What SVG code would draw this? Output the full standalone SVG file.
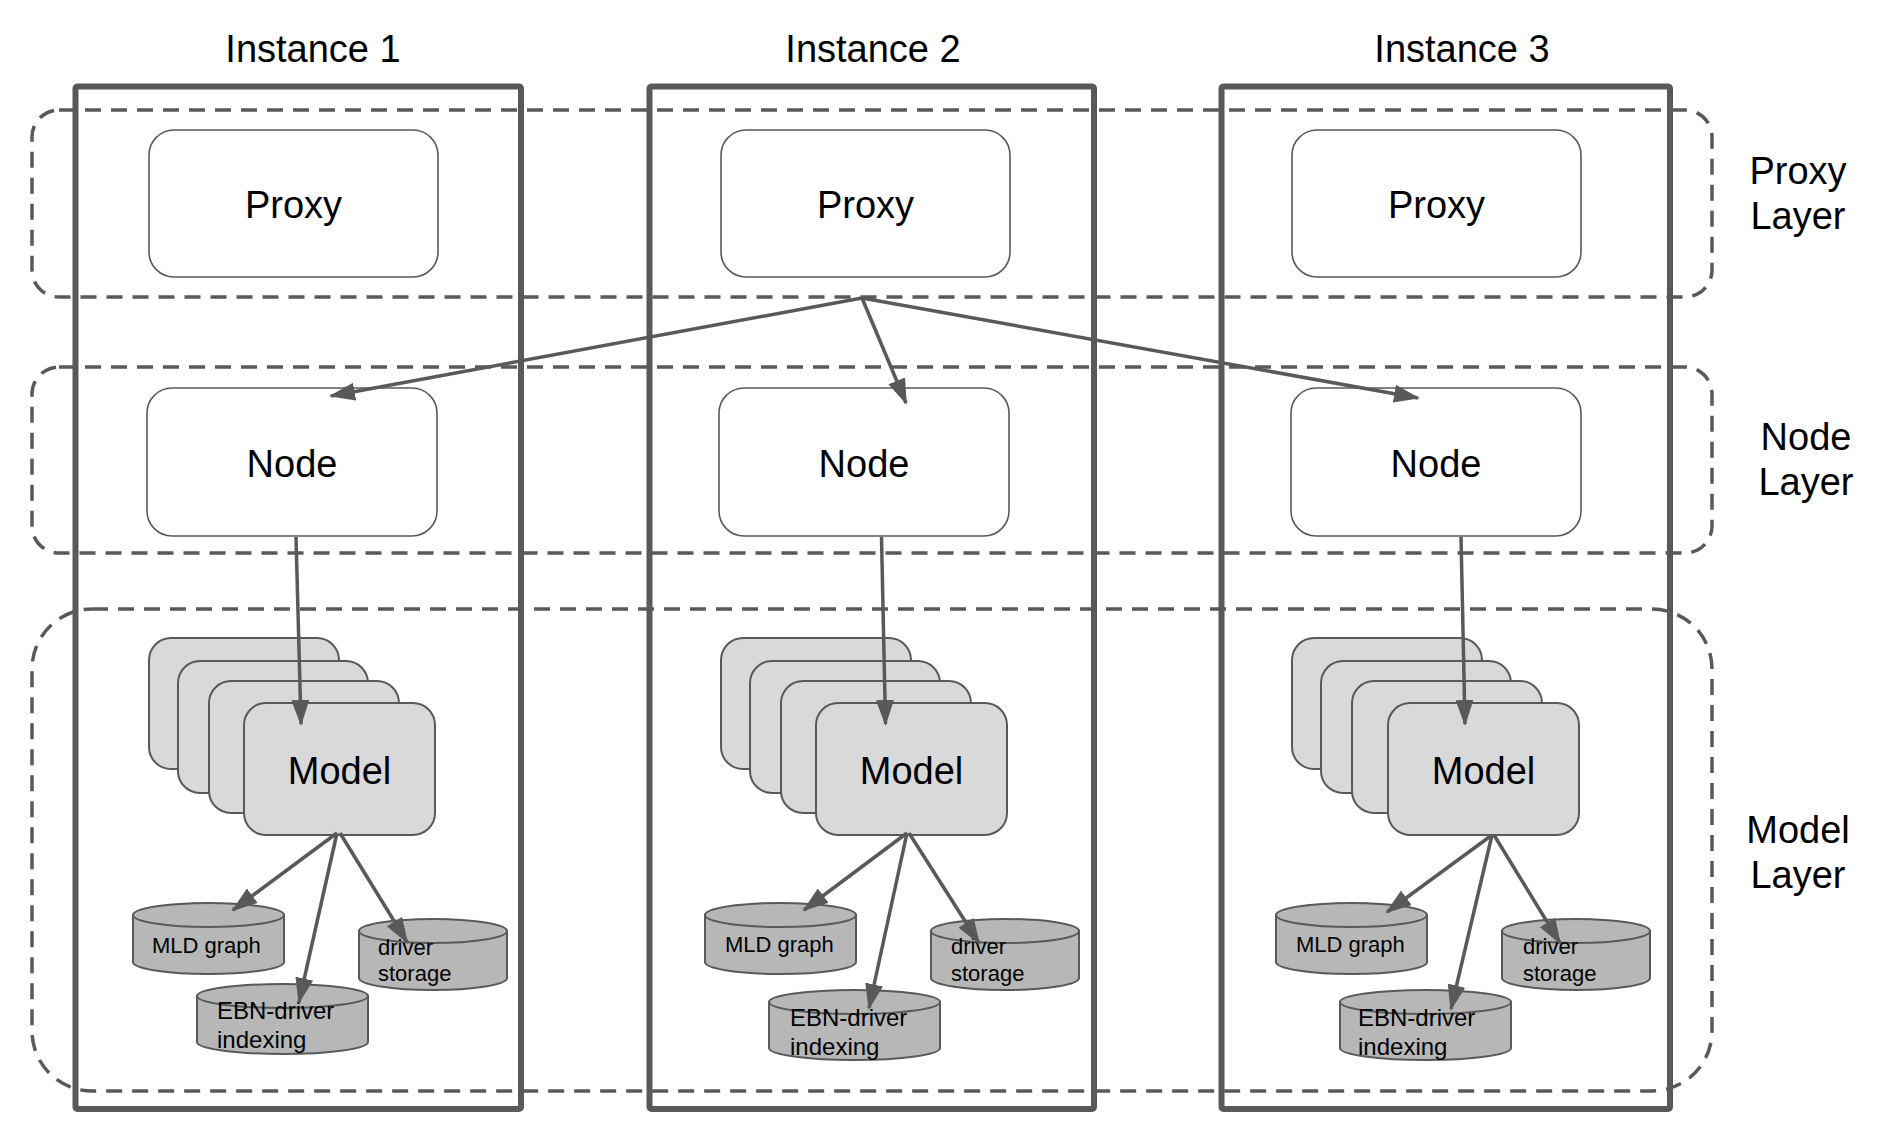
<svg xmlns="http://www.w3.org/2000/svg" width="1879" height="1126" viewBox="0 0 1879 1126">
<style>
text{font-family:"Liberation Sans",Arial,sans-serif;fill:#000}
.big{font-size:38px}
.mid{font-size:38px;text-anchor:middle}
.sm{font-size:22px}
.sm2{font-size:24px}
.layer{fill:none;stroke:#595959;stroke-width:3.5;stroke-dasharray:16 10}
.inst{fill:none;stroke:#595959;stroke-width:6}
.box{fill:#fff;stroke:#595959;stroke-width:1.6}
.model{fill:#d9d9d9;stroke:#595959;stroke-width:2}
.cyl{fill:#b7b7b7;stroke:#595959;stroke-width:2}
.conn line{stroke:#595959;stroke-width:3.5;marker-end:url(#arr)}
</style>
<defs>
<marker id="arr" markerUnits="userSpaceOnUse" markerWidth="26" markerHeight="18" refX="24" refY="9" orient="auto">
<path d="M0,0 L26,9 L0,18 Z" fill="#595959"/>
</marker>
</defs>
<rect width="1879" height="1126" fill="#fff"/>

<g id="layers">
<rect id="proxy-layer" class="layer" x="32" y="110" width="1680" height="187" rx="27"/>
<rect id="node-layer" class="layer" x="32" y="367" width="1680" height="186" rx="27"/>
<rect id="model-layer" class="layer" x="32" y="609" width="1680" height="482" rx="60"/>
<text class="mid" x="1798" y="184">Proxy</text>
<text class="mid" x="1798" y="229">Layer</text>
<text class="mid" x="1806" y="450">Node</text>
<text class="mid" x="1806" y="495">Layer</text>
<text class="mid" x="1798" y="843">Model</text>
<text class="mid" x="1798" y="888">Layer</text>
</g>

<g id="instance1">
<rect class="inst" x="75.5" y="86.5" width="445.5" height="1022.5" rx="2"/>
<text class="mid" x="313" y="62">Instance 1</text>
</g>
<g id="instance2">
<rect class="inst" x="649.5" y="86.5" width="444.5" height="1022.5" rx="2"/>
<text class="mid" x="873" y="62">Instance 2</text>
</g>
<g id="instance3">
<rect class="inst" x="1221.5" y="86.5" width="448.5" height="1022.5" rx="2"/>
<text class="mid" x="1462" y="62">Instance 3</text>
</g>

<g id="proxy1"><rect class="box" x="149" y="130" width="289" height="147" rx="25"/><text class="mid" x="293.5" y="218">Proxy</text></g>
<g id="proxy2"><rect class="box" x="721" y="130" width="289" height="147" rx="25"/><text class="mid" x="865.5" y="218">Proxy</text></g>
<g id="proxy3"><rect class="box" x="1292" y="130" width="289" height="147" rx="25"/><text class="mid" x="1436.5" y="218">Proxy</text></g>

<g id="node1"><rect class="box" x="147" y="388" width="290" height="148" rx="25"/><text class="mid" x="292" y="477">Node</text></g>
<g id="node2"><rect class="box" x="719" y="388" width="290" height="148" rx="25"/><text class="mid" x="864" y="477">Node</text></g>
<g id="node3"><rect class="box" x="1291" y="388" width="290" height="148" rx="25"/><text class="mid" x="1436" y="477">Node</text></g>

<g id="model1">
<rect class="model" x="149" y="638" width="190" height="131" rx="22"/>
<rect class="model" x="178" y="661" width="190" height="132" rx="22"/>
<rect class="model" x="209" y="681" width="190" height="132" rx="22"/>
<rect class="model" x="244" y="703" width="191" height="132" rx="22"/>
<text class="mid" x="339.5" y="784">Model</text>
</g>
<g id="model2">
<rect class="model" x="721" y="638" width="190" height="131" rx="22"/>
<rect class="model" x="750" y="661" width="190" height="132" rx="22"/>
<rect class="model" x="781" y="681" width="190" height="132" rx="22"/>
<rect class="model" x="816" y="703" width="191" height="132" rx="22"/>
<text class="mid" x="911.5" y="784">Model</text>
</g>
<g id="model3">
<rect class="model" x="1292" y="638" width="190" height="131" rx="22"/>
<rect class="model" x="1321" y="661" width="190" height="132" rx="22"/>
<rect class="model" x="1352" y="681" width="190" height="132" rx="22"/>
<rect class="model" x="1388" y="703" width="191" height="132" rx="22"/>
<text class="mid" x="1483.5" y="784">Model</text>
</g>

<g id="mld1">
<path class="cyl" d="M133,915 V962 A75.5,12 0 0 0 284,962 V915 Z"/>
<ellipse class="cyl" cx="208.5" cy="915" rx="75.5" ry="12"/>
<text class="sm" x="152" y="953">MLD graph</text>
</g>
<g id="driver1">
<path class="cyl" d="M359,931 V978 A74,12 0 0 0 507,978 V931 Z"/>
<ellipse class="cyl" cx="433" cy="931" rx="74" ry="12"/>
<text class="sm" x="378" y="955">driver</text>
<text class="sm" x="378" y="981">storage</text>
</g>
<g id="ebn1">
<path class="cyl" d="M197,996 V1042 A85.5,12 0 0 0 368,1042 V996 Z"/>
<ellipse class="cyl" cx="282.5" cy="996" rx="85.5" ry="12"/>
<text class="sm2" x="217" y="1019">EBN-driver</text>
<text class="sm2" x="217" y="1048">indexing</text>
</g>

<g id="mld2">
<path class="cyl" d="M705,915 V962 A75.5,12 0 0 0 856,962 V915 Z"/>
<ellipse class="cyl" cx="780.5" cy="915" rx="75.5" ry="12"/>
<text class="sm" x="725" y="952">MLD graph</text>
</g>
<g id="driver2">
<path class="cyl" d="M931,931 V978 A74,12 0 0 0 1079,978 V931 Z"/>
<ellipse class="cyl" cx="1005" cy="931" rx="74" ry="12"/>
<text class="sm" x="951" y="954">driver</text>
<text class="sm" x="951" y="981">storage</text>
</g>
<g id="ebn2">
<path class="cyl" d="M769,1002 V1048 A85.5,12 0 0 0 940,1048 V1002 Z"/>
<ellipse class="cyl" cx="854.5" cy="1002" rx="85.5" ry="12"/>
<text class="sm2" x="790" y="1026">EBN-driver</text>
<text class="sm2" x="790" y="1055">indexing</text>
</g>

<g id="mld3">
<path class="cyl" d="M1276,915 V962 A75.5,12 0 0 0 1427,962 V915 Z"/>
<ellipse class="cyl" cx="1351.5" cy="915" rx="75.5" ry="12"/>
<text class="sm" x="1296" y="952">MLD graph</text>
</g>
<g id="driver3">
<path class="cyl" d="M1502,931 V978 A74,12 0 0 0 1650,978 V931 Z"/>
<ellipse class="cyl" cx="1576" cy="931" rx="74" ry="12"/>
<text class="sm" x="1523" y="954">driver</text>
<text class="sm" x="1523" y="981">storage</text>
</g>
<g id="ebn3">
<path class="cyl" d="M1340,1002 V1048 A85.5,12 0 0 0 1511,1048 V1002 Z"/>
<ellipse class="cyl" cx="1425.5" cy="1002" rx="85.5" ry="12"/>
<text class="sm2" x="1358" y="1026">EBN-driver</text>
<text class="sm2" x="1358" y="1055">indexing</text>
</g>

<g id="connectors" class="conn">
<line x1="862" y1="298" x2="331" y2="396"/>
<line x1="862" y1="298" x2="906" y2="403"/>
<line x1="862" y1="298" x2="1418" y2="398"/>
<line x1="296" y1="537" x2="301" y2="724"/>
<line x1="881.5" y1="537" x2="885.5" y2="724"/>
<line x1="1461" y1="537" x2="1465" y2="724"/>
<line x1="337" y1="833" x2="233" y2="910"/>
<line x1="337" y1="833" x2="299" y2="1002"/>
<line x1="340" y1="833" x2="407" y2="942"/>
<line x1="907" y1="833" x2="804" y2="910"/>
<line x1="907" y1="833" x2="869" y2="1008"/>
<line x1="909" y1="833" x2="979" y2="943"/>
<line x1="1492" y1="835" x2="1387" y2="912"/>
<line x1="1492" y1="835" x2="1451" y2="1009"/>
<line x1="1494" y1="835" x2="1560" y2="943"/>
</g>
</svg>
